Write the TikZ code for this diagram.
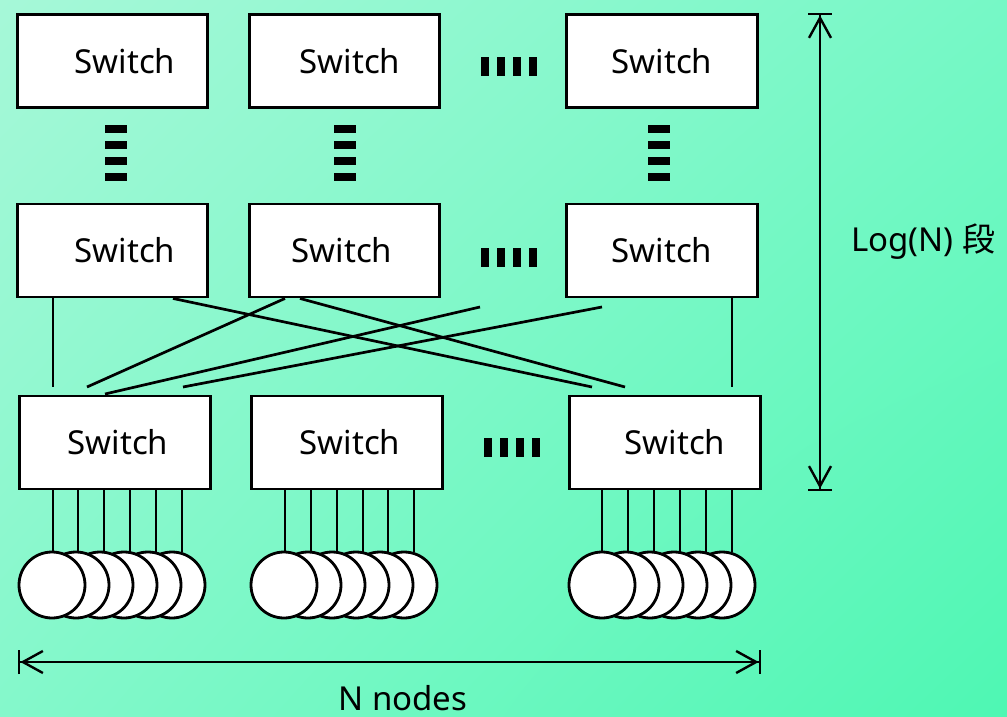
\documentclass[tikz,border=0pt]{standalone}
\usepackage{fontspec}
\setmainfont{Noto Sans}
\newfontfamily\cjk{Noto Sans CJK JP}
\usetikzlibrary{arrows.meta,shadings}

\definecolor{bgTL}{RGB}{166,248,216}
\definecolor{bgTR}{RGB}{118,248,198}
\definecolor{bgBL}{RGB}{132,248,203}
\definecolor{bgBR}{RGB}{78,247,179}

\begin{document}
\begin{tikzpicture}[x=1pt,y=-1pt,
  sw/.style={draw, line width=2.9pt, fill=white, minimum width=190.5pt,
             minimum height=93pt, inner sep=0pt},
  swlabel/.style={font=\fontsize{33}{36}\selectfont, inner sep=0pt},
  wire/.style={line width=2.7pt},
  host/.style={circle, draw, fill=white, line width=2.8pt,
               minimum size=66pt, inner sep=0pt},
  txt/.style={font=\fontsize{33}{36}\selectfont, inner sep=0pt},
  dim/.style={line width=2.4pt,
    {Bar[width=24pt] Straight Barb[length=20pt,width=22pt]}-{Straight Barb[length=20pt,width=22pt] Bar[width=24pt]}},
  hdots/.pic={\foreach \i in {0,...,3} \fill (16*\i,0) rectangle ++(8,19);},
  vdots/.pic={\foreach \i in {0,...,3} \fill (0,16*\i) rectangle ++(22,8);}
]
% background
\shade[upper left=bgTL, upper right=bgTR, lower left=bgBL, lower right=bgBR]
  (0,0) rectangle (1007,717);
\useasboundingbox (0,0) rectangle (1007,717);

% top stage
\node[sw, label={[swlabel,xshift=12.5pt]center:Switch}] (t1) at (112.5,61) {};
\node[sw, label={[swlabel,xshift=5.5pt]center:Switch}]  (t2) at (344.5,61) {};
\node[sw, label={[swlabel]center:Switch}]               (t3) at (662,61) {};

% middle stage
\node[sw, label={[swlabel,xshift=12.5pt]center:Switch}] (m1) at (112.5,250.5) {};
\node[sw, label={[swlabel,xshift=-2.5pt]center:Switch}] (m2) at (344.5,250.5) {};
\node[sw, label={[swlabel]center:Switch}]               (m3) at (662,250.5) {};

% bottom stage
\node[sw, label={[swlabel,xshift=3pt]center:Switch}]  (b1) at (115,442.5) {};
\node[sw, label={[swlabel,xshift=3pt]center:Switch}]  (b2) at (347,442.5) {};
\node[sw, label={[swlabel,xshift=10pt]center:Switch}] (b3) at (665,442.5) {};

% ellipsis marks
\pic at (481,57)  {hdots};
\pic at (481,248) {hdots};
\pic at (484,438) {hdots};
\pic at (105,125) {vdots};
\pic at (334,125) {vdots};
\pic at (648,125) {vdots};

% links between middle and bottom stage
\coordinate (e1) at (53,387);
\coordinate (e2) at (592,387);
\coordinate (e3) at (87,387);
\coordinate (e4) at (625,387);
\coordinate (s5) at (480,307);
\coordinate (e5) at (105,394);
\coordinate (s6) at (602,307);
\coordinate (e6) at (183,387);
\coordinate (e7) at (732,387);
\draw[wire] (m1.south -| e1) -- (e1);
\draw[wire] (m1.south -| 173,0) -- (e2);
\draw[wire] (m2.south -| 285,0) -- (e3);
\draw[wire] (m2.south -| 300,0) -- (e4);
\draw[wire] (s5) -- (e5);
\draw[wire] (s6) -- (e6);
\draw[wire] (m3.south -| e7) -- (e7);

% compute nodes, drawn back to front
\foreach \g/\x in {1/52, 2/284, 3/602}{
  \foreach \k in {5,4,...,0}{
    \node[host] (h\g\k) at (\x+24*\k,585) {};
  }
}
% node links
\foreach \x in {53,78,104,130,156,182} \draw[wire] (b1.south -| \x,0) -- (\x,552);
\foreach \x in {285,311,337,363,388,414} \draw[wire] (b2.south -| \x,0) -- (\x,552);
\foreach \x in {602,628,654,680,706,732} \draw[wire] (b3.south -| \x,0) -- (\x,552);

% extents
\coordinate (hl) at (18,662);
\coordinate (hr) at (761,662);
\draw[dim] (hl) -- (hr);
\node[txt, anchor=base] (nn) at (403,710) {N nodes};

\coordinate (vt) at (820,13);
\coordinate (vb) at (820,491);
\draw[dim] (vt) -- (vb);
\node[txt, anchor=west] (ln) at (851,242) {Log(N) {\cjk 段}};
\end{tikzpicture}
\end{document}
